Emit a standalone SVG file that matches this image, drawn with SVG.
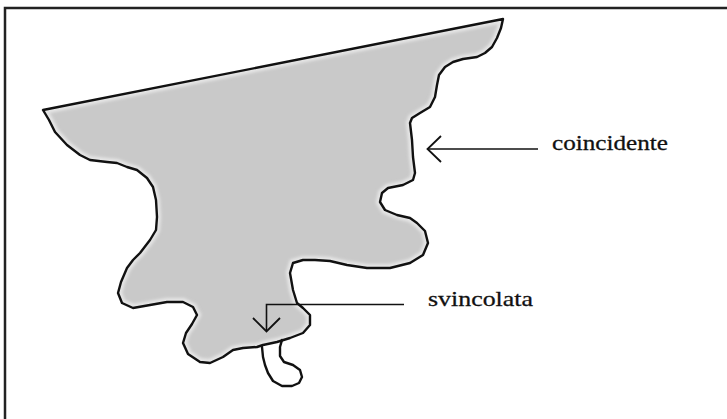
<svg xmlns="http://www.w3.org/2000/svg" width="727" height="419" viewBox="0 0 727 419">
  <defs>
    <path id="blobPath" d="M503,19 L501,28 L497,38 L492,47 L485,53 L477,57 L463,59 L453,62 L445,67 L439,75 L437,85 L435,97 L430,107 L420,113 L412,118 L410,123 L412,140 L413,157 L415,173 L413,180 L403,185 L388,188 L382,193 L380,202 L385,210 L397,215 L410,218 L417,223 L425,231 L428,243 L423,255 L410,263 L390,268 L367,268 L347,265 L330,261 L315,260 L303,260 L293,263 L290,273 L293,290 L297,303 L303,308 L310,315 L310,325 L303,333 L290,338 L277,342 L263,345 L257,347 L243,348 L233,350 L223,357 L210,363 L200,362 L188,354 L183,343 L186,333 L192,324 L197,315 L193,307 L183,302 L167,302 L150,305 L133,308 L122,303 L118,293 L121,282 L127,268 L133,260 L140,253 L150,240 L156,230 L157,217 L156,200 L153,187 L147,178 L137,170 L127,167 L117,163 L107,162 L90,160 L80,155 L67,145 L55,132 L49,120 L43,110 Z"/>
    <clipPath id="blobClip"><use href="#blobPath"/></clipPath>
    <filter id="soft" x="-5%" y="-5%" width="110%" height="110%"><feGaussianBlur stdDeviation="1.5"/></filter>
    <style>
      .outline { fill: none; stroke: #111; stroke-width: 2.4; stroke-linejoin: round; stroke-linecap: round; }
      .conn { fill: none; stroke: #111; stroke-width: 1.6; }
      .head { fill: none; stroke: #111; stroke-width: 1.8; stroke-linejoin: miter; }
      .label { font-family: "Liberation Serif", "Times New Roman", serif; font-size: 22px; fill: #111; stroke: #111; stroke-width: 0.3; }
      .frame { fill: none; stroke: #222; stroke-width: 2.5; }
    </style>
  </defs>

  <rect width="727" height="419" fill="#ffffff"/>

  <g id="frame">
    <path class="frame" d="M5,419 L5,8 L727,8"/>
  </g>

  <g id="region">
    <use href="#blobPath" fill="#c9c9c9"/>
    <g clip-path="url(#blobClip)">
      <use href="#blobPath" fill="none" stroke="#e6e6e6" stroke-width="8" filter="url(#soft)"/>
    </g>
    <use href="#blobPath" class="outline"/>
    <path id="tail" class="outline" d="M262,347 L263,357 L265,365 L268,373 L273,381 L282,386 L292,386 L299,383 L302,377 L300,370 L293,365 L284,362 L280,356 L280,347 L282,340"/>
  </g>

  <g id="connectors">
    <path class="conn" d="M538,149 L428,149"/>
    <path class="head" d="M441,136 L427.5,149 L441,162"/>
    <path class="conn" d="M404,304.5 L266.5,304.5 L266.5,331"/>
    <path class="head" d="M253,318 L266.5,331.5 L280,318"/>
  </g>

  <g id="label-coincidente">
    <text class="label" x="552" y="150" textLength="116" lengthAdjust="spacingAndGlyphs">coincidente</text>
  </g>
  <g id="label-svincolata">
    <text class="label" x="428" y="306" textLength="105" lengthAdjust="spacingAndGlyphs">svincolata</text>
  </g>
</svg>
